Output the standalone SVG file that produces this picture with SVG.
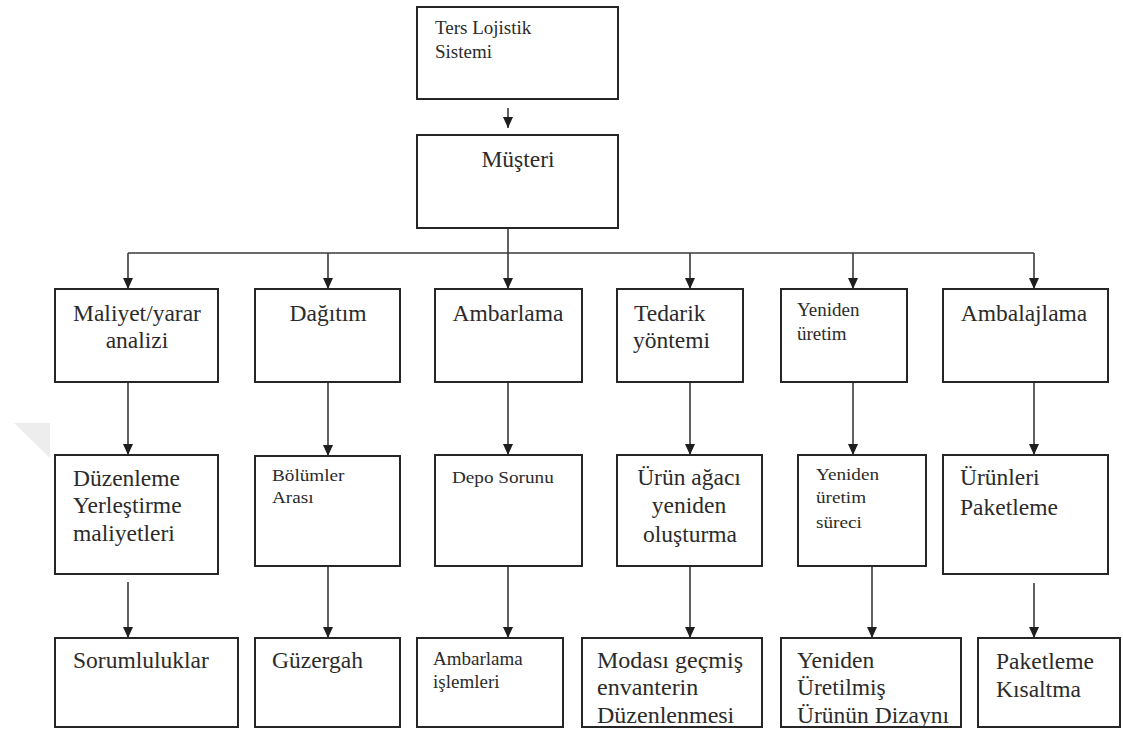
<svg xmlns="http://www.w3.org/2000/svg" width="1123" height="730" viewBox="0 0 1123 730" font-family="'Liberation Serif', 'DejaVu Serif', serif">
  <defs>
    <style>
      .box { fill: #ffffff; stroke: #262626; stroke-width: 2; }
      .t { font-family: 'Liberation Serif', 'DejaVu Serif', serif; fill: #2b2b2b; }
      .l { font-size: 23.5px; }
      .m { font-size: 19px; }
      .s { font-size: 16px; }
      .c { text-anchor: middle; }
      .wire { fill: none; stroke: #3a3a3a; stroke-width: 1.6; }
    </style>
    <marker id="arrow" markerUnits="userSpaceOnUse" markerWidth="12" markerHeight="12" viewBox="0 0 12 12" refX="11" refY="6" orient="auto">
      <path d="M0,1 L11,6 L0,11 Z" fill="#1e1e1e"/>
    </marker>
    <clipPath id="clipBottom">
      <rect x="0" y="600" width="1123" height="126"/>
    </clipPath>
  </defs>

  <rect width="1123" height="730" fill="#ffffff"/>

  <!-- faint mark on the left margin -->
  <polygon points="14,423 50,423 50,458" fill="#ededed"/>

  <!-- connectors -->
  <g id="connectors">
    <line class="wire" x1="508" y1="108" x2="508" y2="128" marker-end="url(#arrow)"/>
    <polyline class="wire" points="128,253 1034,253"/>
    <line class="wire" x1="508" y1="228" x2="508" y2="289" marker-end="url(#arrow)"/>
    <line class="wire" x1="128" y1="253" x2="128" y2="289" marker-end="url(#arrow)"/>
    <line class="wire" x1="328" y1="253" x2="328" y2="289" marker-end="url(#arrow)"/>
    <line class="wire" x1="690" y1="253" x2="690" y2="289" marker-end="url(#arrow)"/>
    <line class="wire" x1="853" y1="253" x2="853" y2="289" marker-end="url(#arrow)"/>
    <line class="wire" x1="1034" y1="253" x2="1034" y2="289" marker-end="url(#arrow)"/>

    <line class="wire" x1="128" y1="382" x2="128" y2="455" marker-end="url(#arrow)"/>
    <line class="wire" x1="328" y1="382" x2="328" y2="456" marker-end="url(#arrow)"/>
    <line class="wire" x1="508" y1="382" x2="508" y2="455" marker-end="url(#arrow)"/>
    <line class="wire" x1="690" y1="382" x2="690" y2="455" marker-end="url(#arrow)"/>
    <line class="wire" x1="853" y1="382" x2="853" y2="455" marker-end="url(#arrow)"/>
    <line class="wire" x1="1034" y1="382" x2="1034" y2="455" marker-end="url(#arrow)"/>

    <line class="wire" x1="128" y1="582" x2="128" y2="638" marker-end="url(#arrow)"/>
    <line class="wire" x1="328" y1="566" x2="328" y2="638" marker-end="url(#arrow)"/>
    <line class="wire" x1="508" y1="566" x2="508" y2="638" marker-end="url(#arrow)"/>
    <line class="wire" x1="690" y1="566" x2="690" y2="638" marker-end="url(#arrow)"/>
    <line class="wire" x1="872" y1="566" x2="872" y2="638" marker-end="url(#arrow)"/>
    <line class="wire" x1="1034" y1="583" x2="1034" y2="638" marker-end="url(#arrow)"/>
  </g>

  <!-- top level -->
  <g id="ters-lojistik">
    <rect class="box" x="417" y="7" width="201" height="92"/>
    <text class="t m" x="435" y="34">Ters Lojistik</text>
    <text class="t m" x="435" y="58">Sistemi</text>
  </g>
  <g id="musteri">
    <rect class="box" x="417" y="135" width="201" height="93"/>
    <text class="t l c" x="518" y="167">Müşteri</text>
  </g>

  <!-- first row -->
  <g id="maliyet-yarar">
    <rect class="box" x="55" y="289" width="163" height="93"/>
    <text class="t l c" x="137" y="321">Maliyet/yarar</text>
    <text class="t l c" x="137" y="348">analizi</text>
  </g>
  <g id="dagitim">
    <rect class="box" x="255" y="289" width="145" height="93"/>
    <text class="t l c" x="328" y="321">Dağıtım</text>
  </g>
  <g id="ambarlama">
    <rect class="box" x="435" y="289" width="147" height="93"/>
    <text class="t l c" x="508" y="321">Ambarlama</text>
  </g>
  <g id="tedarik">
    <rect class="box" x="617" y="289" width="126" height="93"/>
    <text class="t l" x="634" y="321">Tedarik</text>
    <text class="t l" x="633" y="348">yöntemi</text>
  </g>
  <g id="yeniden-uretim">
    <rect class="box" x="781" y="289" width="126" height="93"/>
    <text class="t m" x="797" y="316">Yeniden</text>
    <text class="t m" x="797" y="340">üretim</text>
  </g>
  <g id="ambalajlama">
    <rect class="box" x="943" y="289" width="165" height="93"/>
    <text class="t l c" x="1024" y="321">Ambalajlama</text>
  </g>

  <!-- second row -->
  <g id="duzenleme">
    <rect class="box" x="55" y="455" width="163" height="119"/>
    <text class="t l" x="73" y="486">Düzenleme</text>
    <text class="t l" x="73" y="513">Yerleştirme</text>
    <text class="t l" x="73" y="541">maliyetleri</text>
  </g>
  <g id="bolumler-arasi">
    <rect class="box" x="255" y="456" width="145" height="110"/>
    <g transform="translate(272,0) scale(1.2,1)">
      <text class="t s" x="0" y="481">Bölümler</text>
      <text class="t s" x="0" y="503">Arası</text>
    </g>
  </g>
  <g id="depo-sorunu">
    <rect class="box" x="435" y="455" width="147" height="111"/>
    <g transform="translate(452,0) scale(1.2,1)">
      <text class="t s" x="0" y="483">Depo Sorunu</text>
    </g>
  </g>
  <g id="urun-agaci">
    <rect class="box" x="617" y="455" width="145" height="111"/>
    <text class="t l c" x="689" y="485">Ürün ağacı</text>
    <text class="t l c" x="689" y="513">yeniden</text>
    <text class="t l c" x="690" y="542">oluşturma</text>
  </g>
  <g id="yeniden-uretim-sureci">
    <rect class="box" x="798" y="455" width="128" height="111"/>
    <g transform="translate(816,0) scale(1.2,1)">
      <text class="t s" x="0" y="480">Yeniden</text>
      <text class="t s" x="0" y="503">üretim</text>
      <text class="t s" x="0" y="528">süreci</text>
    </g>
  </g>
  <g id="urunleri-paketleme">
    <rect class="box" x="943" y="455" width="165" height="119"/>
    <text class="t l" x="960" y="485">Ürünleri</text>
    <text class="t l" x="960" y="515">Paketleme</text>
  </g>

  <!-- third row -->
  <g id="sorumluluklar">
    <rect class="box" x="55" y="638" width="183" height="89"/>
    <text class="t l" x="73" y="668">Sorumluluklar</text>
  </g>
  <g id="guzergah">
    <rect class="box" x="255" y="638" width="145" height="89"/>
    <text class="t l" x="272" y="668">Güzergah</text>
  </g>
  <g id="ambarlama-islemleri">
    <rect class="box" x="417" y="638" width="146" height="89"/>
    <text class="t m" x="433" y="665">Ambarlama</text>
    <text class="t m" x="433" y="688">işlemleri</text>
  </g>
  <g id="modasi-gecmis">
    <rect class="box" x="582" y="638" width="180" height="89"/>
    <g clip-path="url(#clipBottom)">
      <text class="t l" x="597" y="668" style="font-size:24px">Modası geçmiş</text>
      <text class="t l" x="597" y="695" style="font-size:24px">envanterin</text>
      <text class="t l" x="597" y="723" style="font-size:24px">Düzenlenmesi</text>
    </g>
  </g>
  <g id="yeniden-uretilmis">
    <rect class="box" x="781" y="638" width="180" height="89"/>
    <g clip-path="url(#clipBottom)">
      <text class="t l" x="797" y="668">Yeniden</text>
      <text class="t l" x="797" y="695">Üretilmiş</text>
      <text class="t l" x="797" y="723">Ürünün Dizaynı</text>
    </g>
  </g>
  <g id="paketleme-kisaltma">
    <rect class="box" x="978" y="638" width="142" height="89"/>
    <text class="t l" x="996" y="669">Paketleme</text>
    <text class="t l" x="996" y="697">Kısaltma</text>
  </g>
</svg>
